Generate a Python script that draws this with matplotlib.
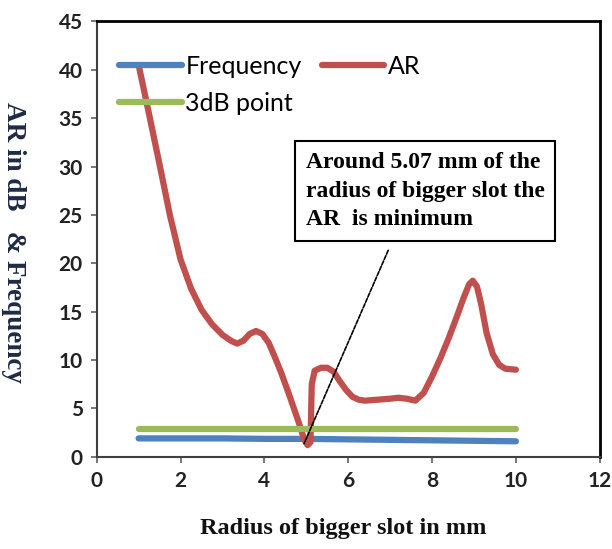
import matplotlib
matplotlib.use("Agg")
import matplotlib.pyplot as plt

# radius of bigger slot (mm) vs axial ratio
ar_x = [1.0, 1.25, 1.5, 1.75, 2.0, 2.25, 2.5, 2.75, 3.0, 3.2, 3.35, 3.5,
        3.65, 3.8, 3.95, 4.1, 4.25, 4.4, 4.6, 4.8, 4.95, 5.03, 5.1, 5.13,
        5.2, 5.35, 5.5, 5.65, 5.8, 5.95, 6.1, 6.25, 6.4, 6.7, 7.0, 7.2, 7.4,
        7.6, 7.8, 8.0, 8.2, 8.4, 8.6, 8.75, 8.88, 8.97, 9.07, 9.17, 9.3,
        9.45, 9.6, 9.75, 10.0]
ar_db = [40.5, 35.4, 30.2, 24.9, 20.4, 17.4, 15.2, 13.7, 12.6, 12.0, 11.7,
         12.0, 12.7, 13.0, 12.7, 11.8, 10.3, 8.7, 6.3, 3.8, 1.8, 1.2, 1.5,
         7.5, 8.9, 9.2, 9.2, 8.8, 7.8, 6.9, 6.2, 5.9, 5.8, 5.9, 6.0, 6.1,
         6.0, 5.8, 6.6, 8.3, 10.2, 12.3, 14.6, 16.4, 17.8, 18.2, 17.6, 15.8,
         12.8, 10.6, 9.5, 9.1, 9.0]

freq_x = [1, 2, 3, 4, 5, 6, 7, 8, 9, 10]
freq = [1.9, 1.9, 1.9, 1.85, 1.85, 1.8, 1.75, 1.7, 1.65, 1.6]
db3 = [2.85] * 10

blue, red, green = "#4F81BD", "#C0504D", "#9BBB59"
serif = "Liberation Serif"
sans = "Lato"

fig = plt.figure(figsize=(6.12, 5.49), dpi=100)
ax = fig.add_axes([0.158, 0.168, 0.822, 0.793])

line_kw = dict(lw=4.5, solid_capstyle="round", solid_joinstyle="round")
ax.plot(freq_x, freq, color=blue, label="Frequency", **line_kw)
ax.plot(ar_x, ar_db, color=red, label="AR", **line_kw)
ax.plot(freq_x, db3, color=green, label="3dB point", **line_kw)

ax.set_xlim(0, 12)
ax.set_ylim(0, 45)
ax.set_xticks(range(0, 13, 2))
ax.set_yticks(range(0, 46, 5))

for side in ["top", "right"]:
    ax.spines[side].set_linewidth(2.0)
    ax.spines[side].set_color("black")
for side in ["left", "bottom"]:
    ax.spines[side].set_linewidth(1.5)
    ax.spines[side].set_color("#404040")

ax.tick_params(direction="out", length=4, width=1.2, color="#606060",
               labelsize=15, labelcolor="#222222", pad=6)
for lab in ax.get_xticklabels() + ax.get_yticklabels():
    lab.set_fontfamily(sans)
    lab.set_fontweight("bold")

# legend: Frequency / 3dB point in first column, AR in second
h, l = ax.get_legend_handles_labels()
order = [0, 2, 1]
ax.legend([h[i] for i in order], [l[i] for i in order], ncol=2, frameon=False,
          loc="upper left", bbox_to_anchor=(0.0, 0.975), handlelength=2.5,
          handletextpad=0.15, columnspacing=0.8, labelspacing=0.55,
          prop={"family": sans, "size": 18})

# annotation box and pointer line
ax.annotate("", xy=(4.92, 1.1), xytext=(6.98, 21.6),
            arrowprops=dict(arrowstyle="-", color="black", lw=1.2,
                            linestyle=(0, (2.5, 1))))
ax.text(4.99, 31.5, "Around 5.07 mm of the\nradius of bigger slot the\nAR  is minimum",
        ha="left", va="top", fontfamily=serif, fontweight="bold", fontsize=17,
        linespacing=1.47,
        bbox=dict(boxstyle="square,pad=0.45", fc="white", ec="black", lw=1.5))

fig.text(0.561, 0.038, "Radius of bigger slot in mm", ha="center", va="center",
         fontfamily=serif, fontweight="bold", fontsize=17.5, color="#111111")
fig.text(0.022, 0.558, "AR in dB   & Frequency", ha="center", va="center",
         rotation=270, fontfamily=serif, fontweight="bold", fontsize=19.5,
         color="#1f2a44")

fig.savefig("out.png", dpi=100)
